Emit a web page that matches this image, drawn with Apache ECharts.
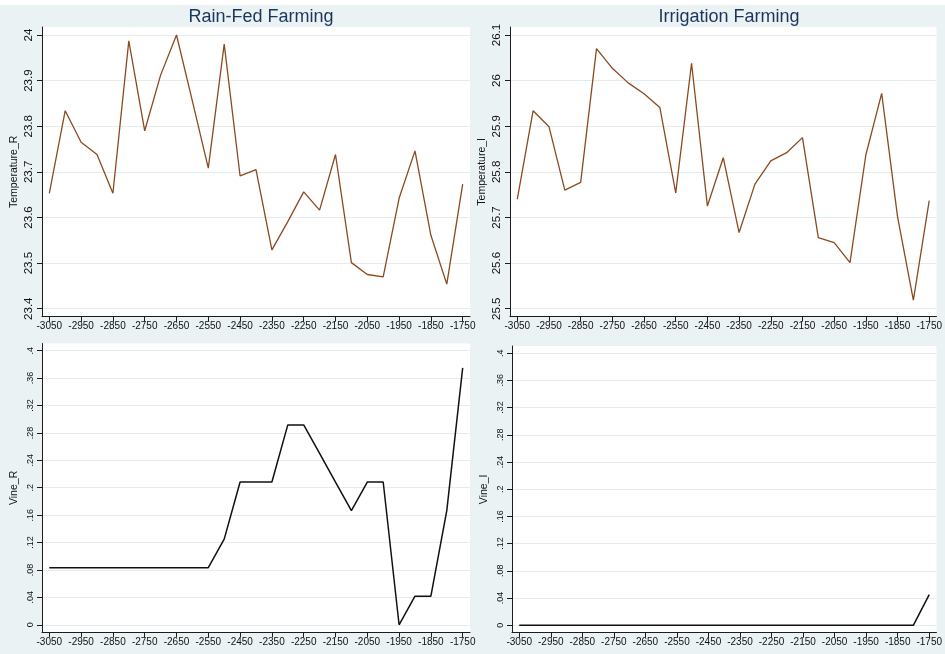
<!DOCTYPE html>
<html>
<head>
<meta charset="utf-8">
<script src="https://cdn.jsdelivr.net/npm/echarts@6/dist/echarts.min.js"></script>
<style>
  html, body { margin: 0; padding: 0; background: #eaf2f3; }
  #chart { width: 945px; height: 654px; }
</style>
</head>
<body>
<div id="chart"></div>
<script>
// Years (BCE shown as negative) at 50-year steps
const years = [-3050, -3000, -2950, -2900, -2850, -2800, -2750, -2700, -2650, -2600,
               -2550, -2500, -2450, -2400, -2350, -2300, -2250, -2200, -2150, -2100,
               -2050, -2000, -1950, -1900, -1850, -1800, -1750];

// Mean temperature, rain-fed and irrigated regions
const temperatureR = [23.653, 23.834, 23.765, 23.738, 23.653, 23.987, 23.790, 23.912, 24.000, 23.855,
                      23.708, 23.980, 23.691, 23.705, 23.529, 23.591, 23.656, 23.616, 23.738, 23.501,
                      23.475, 23.470, 23.642, 23.746, 23.561, 23.454, 23.673];
const temperatureI = [25.740, 25.934, 25.899, 25.760, 25.777, 26.070, 26.027, 25.995, 25.971, 25.941,
                      25.754, 26.038, 25.725, 25.831, 25.667, 25.773, 25.824, 25.842, 25.875, 25.656,
                      25.645, 25.601, 25.837, 25.972, 25.702, 25.519, 25.737];

// Share of sites with vine remains
const vineR = [0.0833, 0.0833, 0.0833, 0.0833, 0.0833, 0.0833, 0.0833, 0.0833, 0.0833, 0.0833,
               0.0833, 0.125, 0.2083, 0.2083, 0.2083, 0.2917, 0.2917, 0.25, 0.2083, 0.1667,
               0.2083, 0.2083, 0, 0.0417, 0.0417, 0.1667, 0.375];
const vineI = [0, 0, 0, 0, 0, 0, 0, 0, 0, 0,
               0, 0, 0, 0, 0, 0, 0, 0, 0, 0,
               0, 0, 0, 0, 0, 0, 0.045];

// Tick values and labels
const yearTicks = [-3050, -2950, -2850, -2750, -2650, -2550, -2450, -2350, -2250, -2150, -2050, -1950, -1850, -1750];
const tempRTicks = [23.4, 23.5, 23.6, 23.7, 23.8, 23.9, 24];
const tempITicks = [25.5, 25.6, 25.7, 25.8, 25.9, 26, 26.1];
const vineTicks = [0, 0.04, 0.08, 0.12, 0.16, 0.2, 0.24, 0.28, 0.32, 0.36, 0.4];
const vineTickLabels = ['0', '.04', '.08', '.12', '.16', '.2', '.24', '.28', '.32', '.36', '.4'];

const panelTitles = ['Rain-Fed Farming', 'Irrigation Farming'];

const FONT = '"Liberation Sans", Arial, sans-serif';
const BG = '#eaf2f3';
const GRID_LINE = '#e3ecee';
const AXIS = '#1c1c1c';

function pairs(ys) { return years.map((x, i) => [x, ys[i]]); }

const plainLabel = v => String(v);
const vineLabel = v => {
  const i = vineTicks.findIndex(t => Math.abs(t - v) < 1e-9);
  return i >= 0 ? vineTickLabels[i] : '';
};

function xAxis(gridIndex) {
  return {
    type: 'value', gridIndex, min: -3073, max: -1727,
    axisLine: { show: true, onZero: false, lineStyle: { color: AXIS, width: 1 } },
    axisTick: { show: true, length: 5, customValues: yearTicks, lineStyle: { color: AXIS } },
    axisLabel: { customValues: yearTicks, margin: 5, fontSize: 10, color: '#111', fontFamily: FONT,
                 formatter: plainLabel, hideOverlap: false },
    splitLine: { show: false }
  };
}

function yAxis(gridIndex, min, max, ticks, name, labelFn, fontSize) {
  return {
    type: 'value', gridIndex, min, max,
    name, nameLocation: 'middle', nameGap: 22,
    nameTextStyle: { fontSize: 10.5, color: '#111', fontFamily: FONT },
    axisLine: { show: true, onZero: false, lineStyle: { color: AXIS, width: 1 } },
    axisTick: { show: true, length: 5, customValues: ticks, lineStyle: { color: AXIS } },
    axisLabel: { customValues: ticks, rotate: 90, margin: 7, fontSize, color: '#111', fontFamily: FONT,
                 formatter: labelFn, hideOverlap: false },
    splitLine: { show: true, lineStyle: { color: GRID_LINE, width: 1 } }
  };
}

const chart = echarts.init(document.getElementById('chart'), null, { renderer: 'canvas' });

chart.setOption({
  backgroundColor: BG,
  animation: false,
  graphic: [
    { type: 'rect', shape: { x: 0, y: 0, width: 945, height: 5 }, style: { fill: '#ffffff' }, silent: true }
  ],
  title: [
    { text: panelTitles[0], left: 256, top: 3, textAlign: 'center',
      textStyle: { fontSize: 18, fontWeight: 'normal', color: '#1a355e', fontFamily: FONT } },
    { text: panelTitles[1], left: 724, top: 3, textAlign: 'center',
      textStyle: { fontSize: 18, fontWeight: 'normal', color: '#1a355e', fontFamily: FONT } }
  ],
  grid: [
    { left: 42, right: 475, top: 27, bottom: 337.3, show: true, backgroundColor: '#fff', borderWidth: 0 },
    { left: 510, right: 7, top: 27, bottom: 337.3, show: true, backgroundColor: '#fff', borderWidth: 0 },
    { left: 42, right: 475, top: 343.5, bottom: 21.7, show: true, backgroundColor: '#fff', borderWidth: 0 },
    { left: 512, right: 7, top: 346, bottom: 21.3, show: true, backgroundColor: '#fff', borderWidth: 0 }
  ],
  xAxis: [xAxis(0), xAxis(1), xAxis(2), xAxis(3)],
  yAxis: [
    yAxis(0, 23.3825, 24.0175, tempRTicks, 'Temperature_R', plainLabel, 11.5),
    yAxis(1, 25.4825, 26.1175, tempITicks, 'Temperature_I', plainLabel, 11.5),
    yAxis(2, -0.011, 0.4105, vineTicks, 'Vine_R', vineLabel, 9),
    yAxis(3, -0.011, 0.4105, vineTicks, 'Vine_I', vineLabel, 9)
  ],
  series: [
    { type: 'line', xAxisIndex: 0, yAxisIndex: 0, data: pairs(temperatureR), showSymbol: false,
      lineStyle: { color: '#8b4a1e', width: 1.3 } },
    { type: 'line', xAxisIndex: 1, yAxisIndex: 1, data: pairs(temperatureI), showSymbol: false,
      lineStyle: { color: '#8b4a1e', width: 1.3 } },
    { type: 'line', xAxisIndex: 2, yAxisIndex: 2, data: pairs(vineR), showSymbol: false,
      lineStyle: { color: '#111', width: 1.5 } },
    { type: 'line', xAxisIndex: 3, yAxisIndex: 3, data: pairs(vineI), showSymbol: false,
      lineStyle: { color: '#111', width: 1.5 } }
  ]
});
</script>
</body>
</html>
